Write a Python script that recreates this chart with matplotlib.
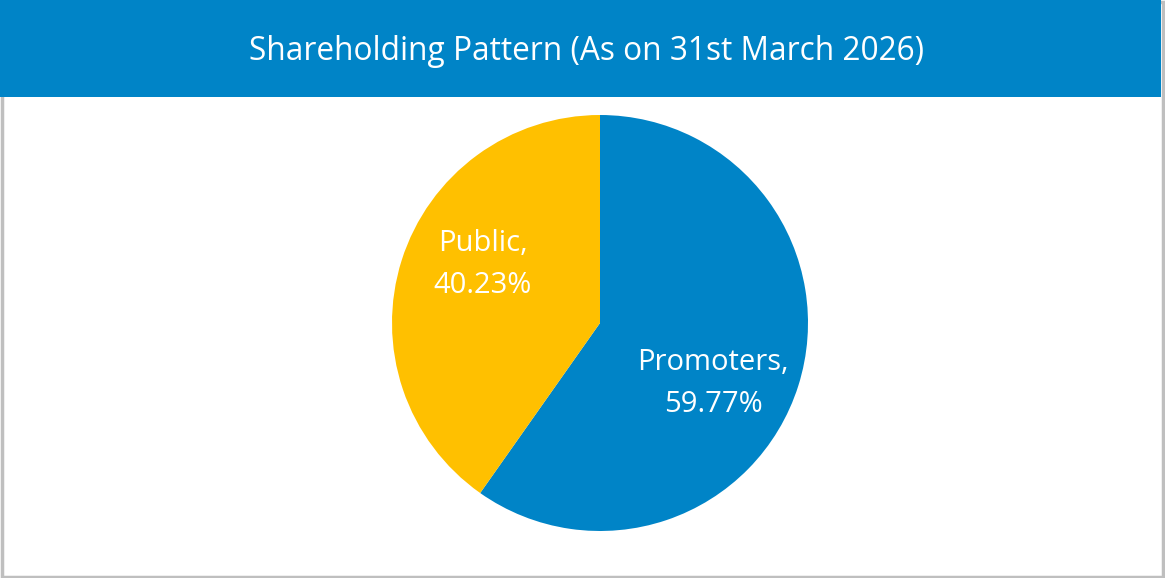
import matplotlib.pyplot as plt
from matplotlib.patches import Rectangle

categorias = ['Promoters', 'Public']
valores = [59.77, 40.23]
colores = ['#0084C7', '#FFC000']
titulo = 'Shareholding Pattern (As on 31st March 2026)'

plt.rcParams['font.family'] = ['Open Sans', 'DejaVu Sans']

W, H = 1165, 578
fig = plt.figure(figsize=(W / 100, H / 100), dpi=100)

# Marco gris y barra azul del titulo
fig.patches.append(Rectangle((1.5 / W, 1.5 / H), (W - 4) / W, (H - 3) / H,
                             transform=fig.transFigure, facecolor='white',
                             edgecolor='#BFBFBF', linewidth=2.5, zorder=-2))
fig.patches.append(Rectangle((0, (H - 97) / H), (W - 4) / W, 97 / H,
                             transform=fig.transFigure, facecolor='#0084C7',
                             edgecolor='none', zorder=-1))
fig.text(587 / W, (H - 51) / H, titulo, color='white', fontsize=22.8,
         ha='center', va='center')

# Eje del pastel: centro (600, 323), radio 208 px
cx, cy, r = 600, 323, 208
ax = fig.add_axes([(cx - r) / W, (H - cy - r) / H, 2 * r / W, 2 * r / H])
ax.set_zorder(2)
etiquetas = [f'{c},\n{v:.2f}%' for c, v in zip(categorias, valores)]
wedges, textos = ax.pie(valores, labels=etiquetas, colors=colores, startangle=90,
                        counterclock=False, labeldistance=0.6,
                        wedgeprops={'linewidth': 0},
                        textprops={'color': 'white', 'fontsize': 21,
                                   'ha': 'center', 'va': 'center',
                                   'linespacing': 1.6})
ax.set_xlim(-1, 1)
ax.set_ylim(-1, 1)
ax.set_aspect('equal')
ax.axis('off')

# Ajuste fino de posiciones de etiquetas
textos[0].set_position((0.545, -0.29))
textos[1].set_position((-0.565, 0.28))

fig.savefig('out.png', dpi=100)
